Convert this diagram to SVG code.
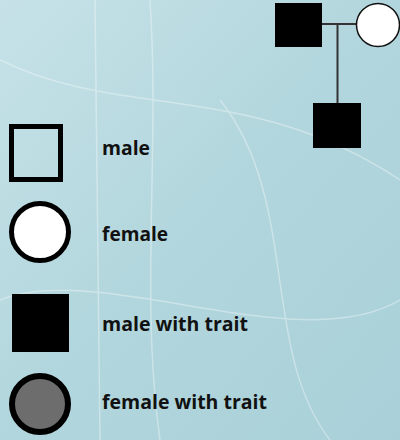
<svg xmlns="http://www.w3.org/2000/svg" width="400" height="440" viewBox="0 0 400 440">
  <defs>
    <linearGradient id="bg" x1="0" y1="0" x2="1" y2="1">
      <stop offset="0" stop-color="#c6e2e8"/>
      <stop offset="0.5" stop-color="#b2d6dd"/>
      <stop offset="1" stop-color="#a9d0d8"/>
    </linearGradient>
  </defs>
  <style>
    .lbl { font-family: "Open Sans", "Liberation Sans", Arial, sans-serif; font-weight: bold; font-size: 20px; fill: #111; }
    .link { stroke: #333; stroke-width: 2; fill: none; }
    .trait { fill: #000; }
  </style>
  <rect width="400" height="440" fill="url(#bg)"/>
  <g opacity="0.35" stroke="#ffffff" fill="none" stroke-width="1.5">
    <path d="M95 0 L100 440"/>
    <path d="M150 0 C160 150 140 300 160 440"/>
    <path d="M0 60 C120 120 250 80 400 180"/>
    <path d="M0 300 C100 260 300 360 400 300"/>
    <path d="M220 100 C300 200 260 350 330 440"/>
  </g>
  <g id="connectors">
    <line class="link" x1="322" y1="24" x2="357" y2="24"/>
    <line class="link" x1="337.5" y1="24" x2="337.5" y2="103"/>
  </g>
  <g id="father"><rect class="trait" x="275" y="3" width="47" height="44"/></g>
  <g id="mother"><circle cx="378" cy="25" r="21.5" fill="#fff" stroke="#111" stroke-width="1.5"/></g>
  <g id="son"><rect class="trait" x="313" y="103" width="48" height="45"/></g>
  <g id="legend-male">
    <rect x="11.5" y="126.5" width="49" height="53" fill="none" stroke="#000" stroke-width="5"/>
    <text class="lbl" x="102" y="155" textLength="48" lengthAdjust="spacingAndGlyphs">male</text>
  </g>
  <g id="legend-female">
    <circle cx="40" cy="232" r="28.5" fill="#fff" stroke="#000" stroke-width="5"/>
    <text class="lbl" x="102" y="241" textLength="66" lengthAdjust="spacingAndGlyphs">female</text>
  </g>
  <g id="legend-male-trait">
    <rect class="trait" x="12" y="294" width="57" height="58"/>
    <text class="lbl" x="102" y="331" textLength="146" lengthAdjust="spacingAndGlyphs">male with trait</text>
  </g>
  <g id="legend-female-trait">
    <circle cx="40" cy="404" r="28" fill="#6d6d6d" stroke="#000" stroke-width="6"/>
    <text class="lbl" x="102" y="409" textLength="165" lengthAdjust="spacingAndGlyphs">female with trait</text>
  </g>
</svg>
